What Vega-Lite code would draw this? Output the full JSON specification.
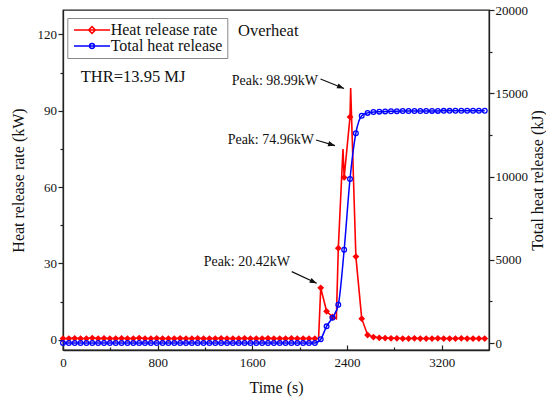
{
  "$schema": "https://vega.github.io/schema/vega-lite/v6.json",
  "width": 426,
  "height": 340,
  "autosize": {"type": "none"},
  "padding": {"left": 63, "top": 10, "right": 57, "bottom": 49},
  "background": "white",
  "config": {
    "view": {"stroke": "#222", "strokeWidth": 1.3},
    "font": "Liberation Serif",
    "axis": {
      "labelFont": "Liberation Serif",
      "titleFont": "Liberation Serif",
      "labelFontSize": 13,
      "titleFontSize": 16,
      "titleFontWeight": "normal",
      "labelColor": "#111",
      "titleColor": "#111",
      "domainColor": "#222",
      "domainWidth": 1.3,
      "tickColor": "#222",
      "tickWidth": 1.2,
      "grid": false
    },
    "legend": {
      "orient": "none",
      "legendX": 4.3,
      "legendY": 8,
      "padding": 4,
      "strokeColor": "#888",
      "strokeWidth": 1,
      "fillColor": "white",
      "labelFont": "Liberation Serif",
      "labelFontSize": 16,
      "labelColor": "#111",
      "symbolSize": 64,
      "symbolStrokeWidth": 1.5,
      "symbolOffset": 12.7,
      "rowPadding": -1,
      "labelOffset": 10.7,
      "cornerRadius": 0
    }
  },
  "datasets": {
    "fire": [
      {"t": 0, "hrr": 0.5, "thr": 0},
      {"t": 49.5, "hrr": 0.5, "thr": 0},
      {"t": 99, "hrr": 0.6, "thr": 0},
      {"t": 148.5, "hrr": 0.5, "thr": 0},
      {"t": 198, "hrr": 0.5, "thr": 0},
      {"t": 247.5, "hrr": 0.7, "thr": 0},
      {"t": 297, "hrr": 0.5, "thr": 0},
      {"t": 346.5, "hrr": 0.6, "thr": 0},
      {"t": 396, "hrr": 0.5, "thr": 0},
      {"t": 445.5, "hrr": 0.5, "thr": 0},
      {"t": 495, "hrr": 0.6, "thr": 0},
      {"t": 544.5, "hrr": 0.5, "thr": 0},
      {"t": 594, "hrr": 0.5, "thr": 0},
      {"t": 643.5, "hrr": 0.7, "thr": 0},
      {"t": 693, "hrr": 0.5, "thr": 0},
      {"t": 742.5, "hrr": 0.5, "thr": 0},
      {"t": 792, "hrr": 0.6, "thr": 0},
      {"t": 841.5, "hrr": 0.5, "thr": 0},
      {"t": 891, "hrr": 0.5, "thr": 0},
      {"t": 940.5, "hrr": 0.5, "thr": 0},
      {"t": 990, "hrr": 0.6, "thr": 0},
      {"t": 1039.5, "hrr": 0.5, "thr": 0},
      {"t": 1089, "hrr": 0.5, "thr": 0},
      {"t": 1138.5, "hrr": 0.6, "thr": 0},
      {"t": 1188, "hrr": 0.5, "thr": 0},
      {"t": 1237.5, "hrr": 0.5, "thr": 0},
      {"t": 1287, "hrr": 0.5, "thr": 0},
      {"t": 1336.5, "hrr": 0.6, "thr": 0},
      {"t": 1386, "hrr": 0.5, "thr": 0},
      {"t": 1435.5, "hrr": 0.5, "thr": 0},
      {"t": 1485, "hrr": 0.5, "thr": 0},
      {"t": 1534.5, "hrr": 0.6, "thr": 0},
      {"t": 1584, "hrr": 0.5, "thr": 0},
      {"t": 1633.5, "hrr": 0.5, "thr": 0},
      {"t": 1683, "hrr": 0.5, "thr": 0},
      {"t": 1732.5, "hrr": 0.6, "thr": 0},
      {"t": 1782, "hrr": 0.5, "thr": 0},
      {"t": 1831.5, "hrr": 0.5, "thr": 0},
      {"t": 1881, "hrr": 0.5, "thr": 0},
      {"t": 1930.5, "hrr": 0.6, "thr": 0},
      {"t": 1980, "hrr": 0.5, "thr": 0},
      {"t": 2029.5, "hrr": 0.5, "thr": 0},
      {"t": 2079, "hrr": 0.5, "thr": 0},
      {"t": 2128.5, "hrr": 0.5, "thr": 0},
      {"t": 2160, "hrr": 0.6},
      {"t": 2178, "hrr": 20.42, "thr": 230},
      {"t": 2227.5, "hrr": 11.2, "thr": 1000},
      {"t": 2277, "hrr": 9.0, "thr": 1520},
      {"t": 2310, "hrr": 8.3},
      {"t": 2326.5, "hrr": 36, "thr": 2300},
      {"t": 2366, "hrr": 74.96},
      {"t": 2376, "hrr": 63.8, "thr": 5600},
      {"t": 2425.5, "hrr": 87.6, "thr": 9850},
      {"t": 2431, "hrr": 98.99},
      {"t": 2475, "hrr": 32.7, "thr": 12600},
      {"t": 2524.5, "hrr": 8.3, "thr": 13650},
      {"t": 2574, "hrr": 1.9, "thr": 13820},
      {"t": 2623.5, "hrr": 1.1, "thr": 13870},
      {"t": 2673, "hrr": 0.8, "thr": 13895},
      {"t": 2722.5, "hrr": 0.7, "thr": 13910},
      {"t": 2772, "hrr": 0.6, "thr": 13920},
      {"t": 2821.5, "hrr": 0.6, "thr": 13925},
      {"t": 2871, "hrr": 0.5, "thr": 13930},
      {"t": 2920.5, "hrr": 0.5, "thr": 13932},
      {"t": 2970, "hrr": 0.6, "thr": 13934},
      {"t": 3019.5, "hrr": 0.5, "thr": 13936},
      {"t": 3069, "hrr": 0.5, "thr": 13938},
      {"t": 3118.5, "hrr": 0.5, "thr": 13940},
      {"t": 3168, "hrr": 0.6, "thr": 13941},
      {"t": 3217.5, "hrr": 0.5, "thr": 13943},
      {"t": 3267, "hrr": 0.5, "thr": 13944},
      {"t": 3316.5, "hrr": 0.5, "thr": 13945},
      {"t": 3366, "hrr": 0.6, "thr": 13946},
      {"t": 3415.5, "hrr": 0.5, "thr": 13947},
      {"t": 3465, "hrr": 0.5, "thr": 13948},
      {"t": 3514.5, "hrr": 0.5, "thr": 13949},
      {"t": 3564, "hrr": 0.5, "thr": 13950}
    ],
    "peaks": [
      {"label": "Peak: 98.99kW", "t": 2155, "v": 101.7, "t1": 2176, "v1": 102.5, "t2": 2375, "v2": 98.75},
      {"label": "Peak: 74.96kW", "t": 2121, "v": 78.5, "t1": 2138, "v1": 78.5, "t2": 2299, "v2": 76.3},
      {"label": "Peak: 20.42kW", "t": 1918, "v": 30.7, "t1": 1933, "v1": 26.8, "t2": 2144, "v2": 22.2}
    ],
    "notes": [
      {"label": "Overheat", "t": 1479, "v": 121.3},
      {"label": "THR=13.95 MJ", "t": 150, "v": 103.3}
    ]
  },
  "layer": [
    {
      "layer": [
        {
          "data": {"name": "fire"},
          "mark": {"type": "line", "color": "#ff0000", "strokeWidth": 1.6},
          "encoding": {
            "x": {
              "field": "t", "type": "quantitative",
              "scale": {"domain": [0, 3600], "nice": false, "zero": false},
              "axis": {
                "title": "Time (s)",
                "values": [0, 400, 800, 1200, 1600, 2000, 2400, 2800, 3200],
                "format": "d",
                "labelExpr": "datum.value % 800 == 0 ? datum.label : ''",
                "tickSize": {"condition": {"test": "datum.value % 800 != 0", "value": -3}, "value": -5},
                "labelPadding": 11,
                "labelFlush": false,
                "labelOverlap": false,
                "titlePadding": 8
              }
            },
            "y": {
              "field": "hrr", "type": "quantitative",
              "scale": {"domain": [-4, 129.6], "nice": false, "zero": false},
              "axis": {
                "title": "Heat release rate (kW)",
                "values": [0, 15, 30, 45, 60, 75, 90, 105, 120],
                "format": "d",
                "labelExpr": "datum.value % 30 == 0 ? datum.label : ''",
                "tickSize": {"condition": {"test": "datum.value % 30 != 0", "value": 3}, "value": 5},
                "labelPadding": 1.5,
                "labelOverlap": false,
                "titlePadding": 11
              }
            }
          }
        },
        {
          "data": {"name": "fire"},
          "transform": [{"filter": "isValid(datum.thr)"}],
          "mark": {"type": "point", "shape": "diamond", "filled": true, "color": "#ff0000", "size": 46, "opacity": 1},
          "encoding": {
            "x": {"field": "t", "type": "quantitative"},
            "y": {"field": "hrr", "type": "quantitative"}
          }
        },
        {
          "data": {"name": "notes"},
          "mark": {"type": "text", "align": "left", "baseline": "middle", "fontSize": 16.5, "font": "Liberation Serif", "color": "#111"},
          "encoding": {
            "x": {"field": "t", "type": "quantitative"},
            "y": {"field": "v", "type": "quantitative"},
            "text": {"field": "label"}
          }
        },
        {
          "data": {"name": "peaks"},
          "mark": {"type": "text", "align": "right", "baseline": "middle", "fontSize": 14, "font": "Liberation Serif", "color": "#111"},
          "encoding": {
            "x": {"field": "t", "type": "quantitative"},
            "y": {"field": "v", "type": "quantitative"},
            "text": {"field": "label"}
          }
        },
        {
          "data": {"name": "peaks"},
          "mark": {"type": "rule", "color": "#111", "strokeWidth": 1.2},
          "encoding": {
            "x": {"field": "t1", "type": "quantitative"},
            "y": {"field": "v1", "type": "quantitative"},
            "x2": {"field": "t2"},
            "y2": {"field": "v2"}
          }
        },
        {
          "data": {"name": "peaks"},
          "transform": [{"filter": "datum.label == 'Peak: 98.99kW'"}],
          "mark": {"type": "point", "shape": "M0,0L-1,-0.38L-1,0.38Z", "size": 196, "filled": true, "color": "#111", "opacity": 1, "angle": 22},
          "encoding": {
            "x": {"field": "t2", "type": "quantitative"},
            "y": {"field": "v2", "type": "quantitative"}
          }
        },
        {
          "data": {"name": "peaks"},
          "transform": [{"filter": "datum.label == 'Peak: 74.96kW'"}],
          "mark": {"type": "point", "shape": "M0,0L-1,-0.38L-1,0.38Z", "size": 196, "filled": true, "color": "#111", "opacity": 1, "angle": 17},
          "encoding": {
            "x": {"field": "t2", "type": "quantitative"},
            "y": {"field": "v2", "type": "quantitative"}
          }
        },
        {
          "data": {"name": "peaks"},
          "transform": [{"filter": "datum.label == 'Peak: 20.42kW'"}],
          "mark": {"type": "point", "shape": "M0,0L-1,-0.38L-1,0.38Z", "size": 196, "filled": true, "color": "#111", "opacity": 1, "angle": 25},
          "encoding": {
            "x": {"field": "t2", "type": "quantitative"},
            "y": {"field": "v2", "type": "quantitative"}
          }
        }
      ]
    },
    {
      "layer": [
        {
          "data": {"name": "fire"},
          "transform": [{"filter": "isValid(datum.thr)"}],
          "mark": {"type": "line", "color": "#0000ff", "strokeWidth": 1.5, "interpolate": "monotone"},
          "encoding": {
            "x": {"field": "t", "type": "quantitative"},
            "y": {
              "field": "thr", "type": "quantitative",
              "scale": {"domain": [-420, 20000], "nice": false, "zero": false},
              "axis": {
                "orient": "right",
                "title": "Total heat release (kJ)",
                "values": [0, 2500, 5000, 7500, 10000, 12500, 15000, 17500, 20000],
                "format": "d",
                "labelExpr": "datum.value % 5000 == 0 ? datum.label : ''",
                "tickSize": {"condition": {"test": "datum.value % 5000 != 0", "value": 3}, "value": 5},
                "labelPadding": 1,
                "labelOverlap": false,
                "titleAngle": 270,
                "titleBaseline": "top",
                "titlePadding": 2
              }
            }
          }
        },
        {
          "data": {"name": "fire"},
          "transform": [{"filter": "isValid(datum.thr)"}],
          "mark": {"type": "point", "shape": "circle", "filled": false, "color": "#0000ff", "size": 22, "strokeWidth": 1.3, "opacity": 1},
          "encoding": {
            "x": {"field": "t", "type": "quantitative"},
            "y": {"field": "thr", "type": "quantitative"}
          }
        }
      ]
    },
    {
      "data": {"values": []},
      "mark": {"type": "point", "filled": false, "opacity": 1},
      "encoding": {
        "color": {
          "field": "series", "type": "nominal",
          "scale": {"domain": ["Heat release rate", "Total heat release"], "range": ["#ff0000", "#0000ff"]},
          "legend": {"title": null}
        },
        "shape": {
          "field": "series", "type": "nominal",
          "scale": {
            "domain": ["Heat release rate", "Total heat release"],
            "range": [
              "M-4.5,0H4.5M0,-0.85L0.85,0L0,0.85L-0.85,0Z",
              "M-4.5,0H4.5M-0.6,0A0.6,0.6 0 1,0 0.6,0A0.6,0.6 0 1,0 -0.6,0Z"
            ]
          },
          "legend": {"title": null}
        }
      }
    }
  ],
  "resolve": {"scale": {"y": "independent"}}
}
